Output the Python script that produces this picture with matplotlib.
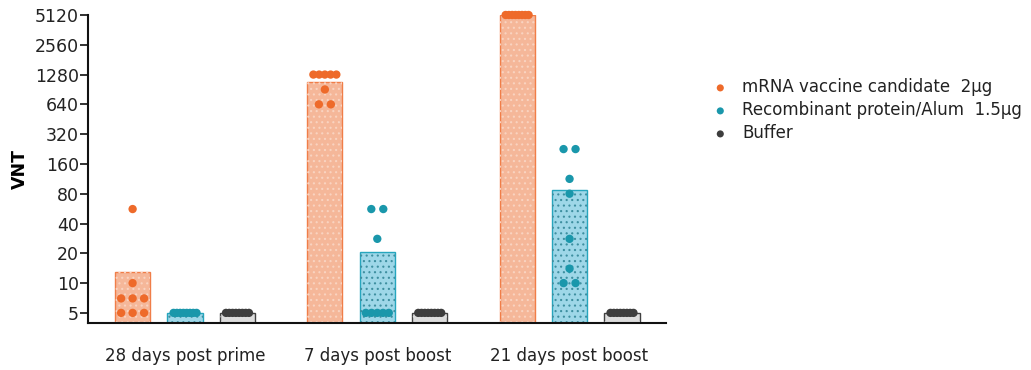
import matplotlib
matplotlib.use("Agg")
import matplotlib.pyplot as plt
import numpy as np

# data
timepoints = ["28 days post prime", "7 days post boost", "21 days post boost"]
groups = ["mRNA vaccine candidate  2µg", "Recombinant protein/Alum  1.5µg", "Buffer"]

# bar heights (group means)
mrna_bar = [12.8, 1077, 5120]
protein_bar = [5, 20.8, 87.5]
buffer_bar = [5, 5, 5]

# individual animals
mrna_pts = [
    [5, 5, 5, 7, 7, 7, 10, 56],
    [640, 640, 905, 1280, 1280, 1280, 1280, 1280],
    [5120, 5120, 5120, 5120, 5120, 5120, 5120, 5120],
]
protein_pts = [
    [5, 5, 5, 5, 5, 5, 5, 5],
    [5, 5, 5, 5, 5, 28, 56, 56],
    [10, 10, 14, 28, 80, 113, 226, 226],
]
buffer_pts = [
    [5, 5, 5, 5, 5, 5, 5, 5],
    [5, 5, 5, 5, 5, 5, 5, 5],
    [5, 5, 5, 5, 5, 5, 5, 5],
]

yticks = [5, 10, 20, 40, 80, 160, 320, 640, 1280, 2560, 5120]

dot_cols = ["#EE6A2A", "#1A97AB", "#3D3D3D"]
fill_cols = ["#F5B799", "#9ED7E8", "#DCDCDC"]
edge_cols = ["#F07E48", "#27A6BE", "#404040"]
hatch_cols = ["#F9D3C0", "#3E8FA0", "#DCDCDC"]

plt.rcParams["font.family"] = "DejaVu Sans"
plt.rcParams["hatch.linewidth"] = 0.8

fig = plt.figure(figsize=(10.31, 3.70), dpi=100)
ax = fig.add_axes([0.0854, 0.127, 0.5606, 0.8325])
ax.set_yscale("log", base=2)

bars = [mrna_bar, protein_bar, buffer_bar]
pts = [mrna_pts, protein_pts, buffer_pts]
centers = np.array([0, 11 / 3, 22 / 3])
width = 0.67
px = 1 / 52.5  # data units per pixel horizontally

for g in range(3):
    xs = centers + (g - 1)
    ax.bar(xs, bars[g], width=width, bottom=0.001, color=fill_cols[g],
           edgecolor=edge_cols[g], linewidth=1.0, zorder=2)
    ax.bar(xs, bars[g], width=width, bottom=0.001, color="none",
           edgecolor=hatch_cols[g], linewidth=0, hatch="...", zorder=2)
    for t in range(3):
        vals = np.array(pts[g][t])
        for v in np.unique(vals):
            n = int((vals == v).sum())
            span = min(12 * (n - 1), 23) * px
            offs = np.linspace(-span / 2, span / 2, n) if n > 1 else np.array([0.0])
            ax.scatter(xs[t] + offs, np.full(n, v), s=36, color=dot_cols[g],
                       edgecolor="none", zorder=3, clip_on=False,
                       label=groups[g] if (t == 0 and v == vals.min()) else None)

ax.set_ylim(3.95, 5120)
ax.set_xlim(-1.85, 22 / 3 + 1.84)
ax.set_yticks(yticks)
ax.set_yticklabels([str(v) for v in yticks])
ax.yaxis.set_minor_locator(matplotlib.ticker.NullLocator())
ax.set_xticks(centers)
ax.set_xticklabels(timepoints)
ax.tick_params(axis="x", length=0, pad=17, labelsize=12, colors="#222222")
ax.tick_params(axis="y", length=6, width=1.3, pad=0.5, labelsize=12.5, colors="#222222")
ax.set_ylabel("VNT", fontsize=12.5, fontweight="bold", labelpad=4)

for s in ["top", "right"]:
    ax.spines[s].set_visible(False)
for s in ["left", "bottom"]:
    ax.spines[s].set_linewidth(1.5)
    ax.spines[s].set_color("#111111")

leg = fig.legend(loc="upper left", bbox_to_anchor=(0.676, 0.829), frameon=False,
                 fontsize=12, handletextpad=0.8, labelspacing=0.3,
                 markerscale=0.85, handlelength=1.0)
for txt in leg.get_texts():
    txt.set_color("#222222")

fig.savefig("out.png", dpi=100)
